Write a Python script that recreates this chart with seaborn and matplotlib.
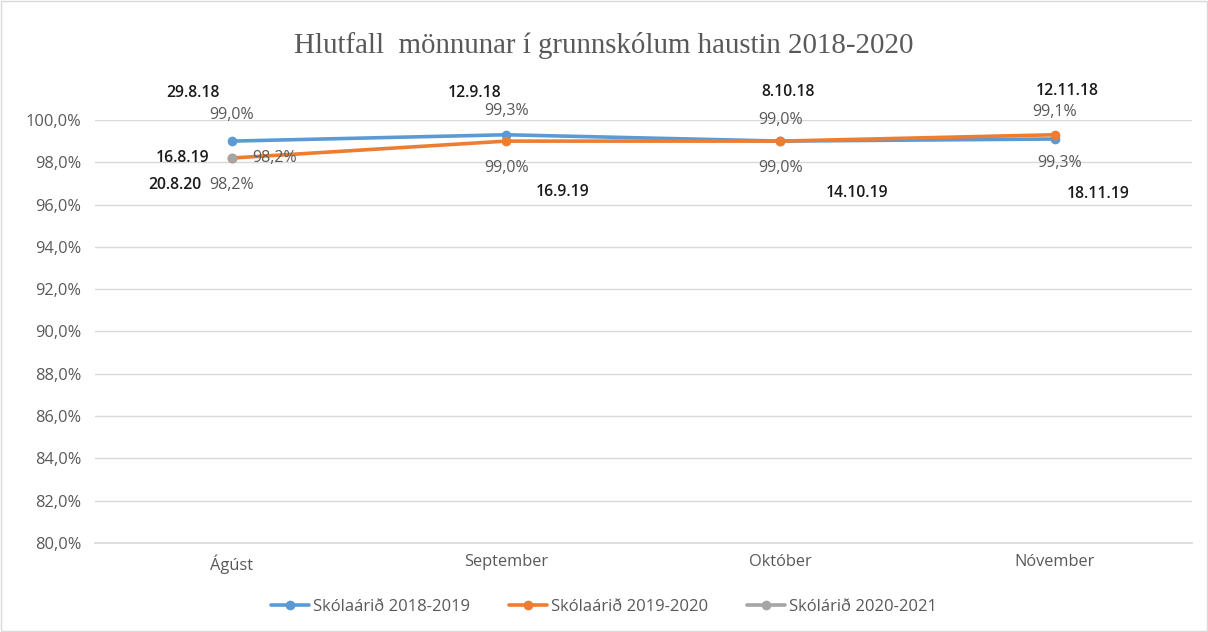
import matplotlib
matplotlib.use("Agg")
import matplotlib.pyplot as plt
import seaborn as sns
import pandas as pd
from matplotlib.lines import Line2D
from matplotlib.ticker import FuncFormatter

months = ["Ágúst", "September", "Október", "Nóvember"]
series_names = ["Skólaárið 2018-2019", "Skólaárið 2019-2020", "Skólárið 2020-2021"]
vals_2018 = [99.0, 99.3, 99.0, 99.1]
vals_2019 = [98.2, 99.0, 99.0, 99.3]
vals_2020 = [98.2]
dates_2018 = ["29.8.18", "12.9.18", "8.10.18", "12.11.18"]
dates_2019 = ["16.8.19", "16.9.19", "14.10.19", "18.11.19"]
dates_2020 = ["20.8.20"]
yticks = [80, 82, 84, 86, 88, 90, 92, 94, 96, 98, 100]

colors = ["#5B9BD5", "#ED7D31", "#A5A5A5"]

rows = []
for name, vals, dates in zip(series_names, [vals_2018, vals_2019, vals_2020],
                             [dates_2018, dates_2019, dates_2020]):
    for i, (v, d) in enumerate(zip(vals, dates)):
        rows.append({"series": name, "month": months[i], "x": i, "value": v, "date": d})
df = pd.DataFrame(rows)

sns.set_theme(style="white")
plt.rcParams["font.family"] = ["Open Sans", "DejaVu Sans"]

fig = plt.figure(figsize=(12.08, 6.32), dpi=100)
ax = fig.add_axes([0.0786, 0.1408, 0.908, 0.6694])

sns.lineplot(data=df, x="x", y="value", hue="series", hue_order=series_names,
             palette=colors, marker="o", markersize=7, markeredgewidth=0,
             linewidth=2.6, ax=ax, legend=False, sort=False)

ax.set_xlim(-0.5, 3.5)
ax.set_ylim(80, 100)
ax.set_yticks(yticks)
ax.yaxis.set_major_formatter(FuncFormatter(lambda v, p: f"{v:.1f}%".replace(".", ",")))
ax.set_xticks(range(len(months)))
ax.set_xticklabels(months)
ax.tick_params(axis="both", length=0, labelsize=11.8, labelcolor="#595959", pad=10)
ax.tick_params(axis="x", pad=8)
ax.grid(axis="y", color="#D9D9D9", linewidth=1)
ax.set_axisbelow(True)
for s in ["top", "right", "left"]:
    ax.spines[s].set_visible(False)
ax.spines["bottom"].set_color("#D9D9D9")
ax.set_xlabel("")
ax.set_ylabel("")

# label offsets (pixels): (value label offset, date label offset)
offs_2018 = [((0, 26), (-39, 48)), ((0, 24), (-32, 42)), ((0, 21), (8, 49)), ((0, 27), (12, 48))]
offs_2019 = [((43, 0), (-49, 0)), ((0, -27), (56, -51)), ((0, -27), (77, -52)), ((5, -28), (43, -59))]
offs_2020 = [((0, -27), (-57, -27))]

for vals, dates, offs in zip([vals_2018, vals_2019, vals_2020],
                             [dates_2018, dates_2019, dates_2020],
                             [offs_2018, offs_2019, offs_2020]):
    for i, (v, d, (vo, do)) in enumerate(zip(vals, dates, offs)):
        ax.annotate(f"{v:.1f}%".replace(".", ","), (i, v), xytext=vo, textcoords="offset pixels",
                    ha="center", va="center", fontsize=11.5, color="#595959", annotation_clip=False)
        ax.annotate(d, (i, v), xytext=do, textcoords="offset pixels",
                    ha="center", va="center", fontsize=11.3, color="#1a1a1a",
                    fontweight="semibold", annotation_clip=False)

fig.text(0.5, 0.928, "Hlutfall  mönnunar í grunnskólum haustin 2018-2020",
         ha="center", va="center", fontsize=20.8, color="#595959", family="Liberation Serif")

handles = [Line2D([0], [0], color=c, linewidth=2.6, marker="o", markersize=7, markeredgewidth=0)
           for c in colors]
fig.legend(handles, series_names, loc="center", bbox_to_anchor=(0.5, 0.04), ncol=3,
           frameon=False, fontsize=12, labelcolor="#595959", handlelength=2.3,
           columnspacing=2.3, handletextpad=0.25)

fig.patches.append(plt.Rectangle((0.001, 0.001), 0.998, 0.998, transform=fig.transFigure,
                                 fill=False, edgecolor="#D9D9D9", linewidth=1))

fig.savefig("out.png", dpi=100)
